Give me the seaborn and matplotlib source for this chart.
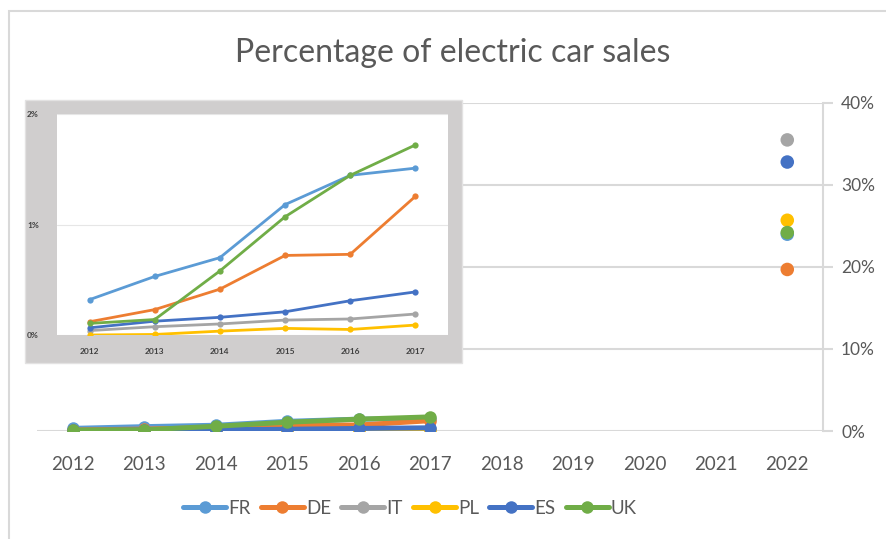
import matplotlib
matplotlib.use("Agg")
import matplotlib.pyplot as plt
import seaborn as sns
import pandas as pd
from matplotlib.patches import Rectangle
from matplotlib.ticker import FuncFormatter

# ---------------- data ----------------
countries = ["FR", "DE", "IT", "PL", "ES", "UK"]
years = [2012, 2013, 2014, 2015, 2016, 2017]
fr = [0.32, 0.53, 0.70, 1.18, 1.445, 1.51]
de = [0.12, 0.23, 0.415, 0.72, 0.73, 1.255]
it = [0.04, 0.075, 0.10, 0.135, 0.145, 0.19]
pl = [0.00, 0.005, 0.035, 0.06, 0.05, 0.09]
es = [0.065, 0.125, 0.16, 0.21, 0.31, 0.39]
uk = [0.105, 0.14, 0.58, 1.07, 1.445, 1.72]
target_year = 2022
target_2022 = [24.0, 19.7, 35.5, 25.7, 32.8, 24.2]
all_years = list(range(2012, 2023))
main_yticks = [0, 10, 20, 30, 40]
inset_yticks = [0, 1, 2]
title = "Percentage of electric car sales"
colors = ["#5B9BD5", "#ED7D31", "#A5A5A5", "#FFC000", "#4472C4", "#70AD47"]

series = dict(zip(countries, [fr, de, it, pl, es, uk]))
df = pd.DataFrame([(c, y, v) for c in countries for y, v in zip(years, series[c])],
                  columns=["country", "year", "share"])
df22 = pd.DataFrame({"country": countries, "year": [target_year] * len(countries),
                     "share": target_2022})
palette = dict(zip(countries, colors))

# ---------------- style ----------------
sns.set_theme(style="white")
plt.rcParams["font.family"] = ["Lato", "DejaVu Sans"]
txt = "#595959"
grid_c = "#D9D9D9"

W, H = 887, 539
fig = plt.figure(figsize=(W / 100, H / 100), dpi=100)
fig.patch.set_facecolor("white")

def fx(px):
    return px / W

def fy(py):
    return 1 - py / H

# outer chart border
fig.add_artist(Rectangle((fx(9), fy(560)), fx(900) - fx(9), fy(11) - fy(560),
                         transform=fig.transFigure, fill=False,
                         edgecolor=grid_c, linewidth=1.5, zorder=0))

# ---------------- main axes ----------------
ax = fig.add_axes([fx(37), fy(431), fx(823) - fx(37), fy(103) - fy(431)])
ax.set_facecolor("none")
sns.lineplot(data=df, x="year", y="share", hue="country", palette=palette,
             hue_order=countries, marker="o", markersize=9, markeredgewidth=0,
             linewidth=3.6, ax=ax)
sns.scatterplot(data=df22, x="year", y="share", hue="country", palette=palette,
                hue_order=countries, s=95, linewidth=0, legend=False, ax=ax, zorder=5)

handles, labels = ax.get_legend_handles_labels()
ax.get_legend().remove()

ax.set_xlim(2011.5, 2022.5)
ax.set_ylim(0, 40)
ax.set_xticks(all_years)
ax.set_yticks(main_yticks)
ax.yaxis.set_major_formatter(FuncFormatter(lambda v, p: f"{v:.0f}%"))
ax.yaxis.tick_right()
ax.grid(axis="y", color=grid_c, linewidth=1.5)
ax.set_axisbelow(True)
for s in ["top", "left", "bottom"]:
    ax.spines[s].set_visible(False)
ax.spines["right"].set_color(grid_c)
ax.spines["right"].set_linewidth(1.5)
ax.tick_params(axis="y", which="major", right=True, left=False, length=7,
               width=1.5, color=grid_c, labelsize=12.5, labelcolor=txt, pad=6)
ax.tick_params(axis="x", bottom=False, labelsize=13.5, labelcolor=txt, pad=12)
ax.set_xlabel("")
ax.set_ylabel("")

fig.text(fx(453), fy(53), title, ha="center", va="center", fontsize=23, color=txt)

fig.legend(handles, labels, loc="center", bbox_to_anchor=(fx(410), fy(508)),
           ncol=6, frameon=False, handlelength=2.3, handletextpad=0.1,
           columnspacing=0.55, fontsize=13.5, labelcolor=txt)

# ---------------- inset (pasted picture) ----------------
fig.add_artist(Rectangle((fx(25), fy(363)), fx(462) - fx(25), fy(100) - fy(363),
                         transform=fig.transFigure, facecolor="#D0CECE",
                         edgecolor="#E3E2E2", linewidth=1, zorder=2))
ins = fig.add_axes([fx(57), fy(335), fx(448) - fx(57), fy(114) - fy(335)])
ins.set_zorder(3)
ins.set_facecolor("white")
sns.lineplot(data=df, x="year", y="share", hue="country", palette=palette,
             hue_order=countries, marker="o", markersize=4.5, markeredgewidth=0,
             linewidth=2.0, legend=False, ax=ins)
ins.set_xlim(2011.5, 2017.5)
ins.set_ylim(0, 2)
ins.set_xticks(years)
ins.set_yticks(inset_yticks)
ins.yaxis.set_major_formatter(FuncFormatter(lambda v, p: f"{v:.0f}%"))
ins.grid(axis="y", color="#E6E6E6", linewidth=0.8)
ins.set_axisbelow(True)
for s in ins.spines.values():
    s.set_visible(False)
ins.tick_params(axis="both", length=0, labelsize=6, labelcolor="#404040")
ins.tick_params(axis="y", pad=13)
ins.tick_params(axis="x", pad=9)
for lab in ins.get_xticklabels() + ins.get_yticklabels():
    lab.set_fontweight("bold")
ins.set_xlabel("")
ins.set_ylabel("")

fig.savefig("out.png", dpi=100)
